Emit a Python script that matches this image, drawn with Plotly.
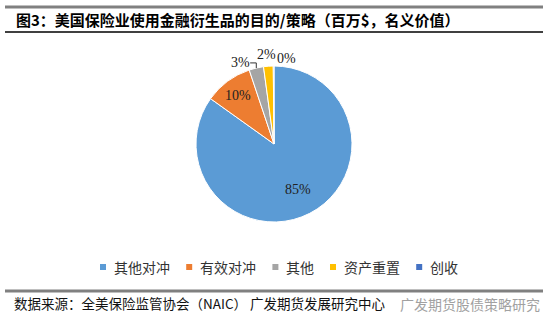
import math
import plotly.graph_objects as go

categories = ["其他对冲", "有效对冲", "其他", "资产重置", "创收"]
shares = [85, 10, 3, 2, 0.15]
pct_labels = ["85%", "10%", "3%", "2%", "0%"]
colors = ["#5B9BD5", "#ED7D31", "#A5A5A5", "#FFC000", "#4472C4"]

W, H = 550, 333
cx, cy, R = 274, 144, 78

fig = go.Figure()
fig.add_trace(go.Pie(
    labels=categories, values=shares, sort=False, direction="clockwise", rotation=0,
    marker=dict(colors=colors, line=dict(color="white", width=1)),
    textinfo="none", hoverinfo="label+percent", showlegend=False,
    domain=dict(x=[(cx - R) / W, (cx + R) / W], y=[1 - (cy + R) / H, 1 - (cy - R) / H]),
))

# label placement (style): radius factor and pixel shifts
rfac = [0.66, 0.77, 1.12, 1.16, 1.12]
xsh = [0, 0, -14, -1, 13]
ysh = [0, 0, 4, 1, 2]

total = sum(shares)
cum = 0
annotations = []
shapes = []
for i, v in enumerate(shares):
    mid = (cum + v / 2) / total * 2 * math.pi
    cum += v
    px = cx + math.sin(mid) * R * rfac[i] + xsh[i]
    py = cy - math.cos(mid) * R * rfac[i] + ysh[i]
    annotations.append(dict(x=px / W, y=1 - py / H, xref="paper", yref="paper",
                            xanchor="center", yanchor="middle",
                            text=pct_labels[i], showarrow=False,
                            font=dict(family="Liberation Serif", size=14, color="#222")))
    if i == 2:
        ex = cx + math.sin(mid) * R
        ey = cy - math.cos(mid) * R
        ly = py
        lx = px + 10
        shapes.append(dict(type="path", xref="paper", yref="paper",
                           path=f"M {ex/W} {1-ey/H} L {ex/W} {1-ly/H} L {lx/W} {1-ly/H}",
                           line=dict(color="#333", width=1)))

# custom legend row
lx0, ly0 = 100, 267
msize, mgap, charw, igap = 6, 6, 14.3, 17
x = lx0
for name, col in zip(categories, colors):
    shapes.append(dict(type="rect", xref="paper", yref="paper",
                       x0=x / W, x1=(x + msize) / W, y0=1 - (ly0 + msize / 2) / H, y1=1 - (ly0 - msize / 2) / H,
                       fillcolor=col, line=dict(width=0)))
    tx = x + msize + mgap
    annotations.append(dict(x=tx / W, y=1 - ly0 / H, xref="paper", yref="paper",
                            xanchor="left", yanchor="middle", text=name, showarrow=False,
                            font=dict(family="Noto Sans CJK SC", size=14, color="#333")))
    x = tx + len(name) * charw + igap

title = "图3：美国保险业使用金融衍生品的目的/策略（百万$，名义价值）"
source = "数据来源：全美保险监管协会（NAIC） 广发期货发展研究中心"
watermark = "广发期货股债策略研究"

annotations += [
    dict(x=14 / W, y=1 - 20 / H, xref="paper", yref="paper", xanchor="left", yanchor="middle",
         text="<b>" + title + "</b>", showarrow=False,
         font=dict(family="Noto Sans CJK SC", size=15, color="#000")),
    dict(x=12 / W, y=1 - 303 / H, xref="paper", yref="paper", xanchor="left", yanchor="middle",
         text=source, showarrow=False,
         font=dict(family="Noto Sans CJK SC", size=13.5, color="#111")),
    dict(x=542 / W, y=1 - 304 / H, xref="paper", yref="paper", xanchor="right", yanchor="middle",
         text=watermark, showarrow=False, opacity=0.8,
         font=dict(family="Noto Sans CJK SC", size=14, color="#8a8a8a")),
]

shapes += [
    dict(type="line", xref="paper", yref="paper", x0=5 / W, x1=543 / W, y0=1 - 7 / H, y1=1 - 7 / H,
         line=dict(color="#808080", width=3)),
    dict(type="line", xref="paper", yref="paper", x0=5 / W, x1=543 / W, y0=1 - 32 / H, y1=1 - 32 / H,
         line=dict(color="#000", width=1.5)),
    dict(type="line", xref="paper", yref="paper", x0=5 / W, x1=543 / W, y0=1 - 291 / H, y1=1 - 291 / H,
         line=dict(color="#808080", width=3)),
]

fig.update_layout(
    width=W, height=H, margin=dict(l=0, r=0, t=0, b=0),
    paper_bgcolor="white", plot_bgcolor="white",
    showlegend=False,
    annotations=annotations, shapes=shapes,
)

fig.write_html("out.html")
